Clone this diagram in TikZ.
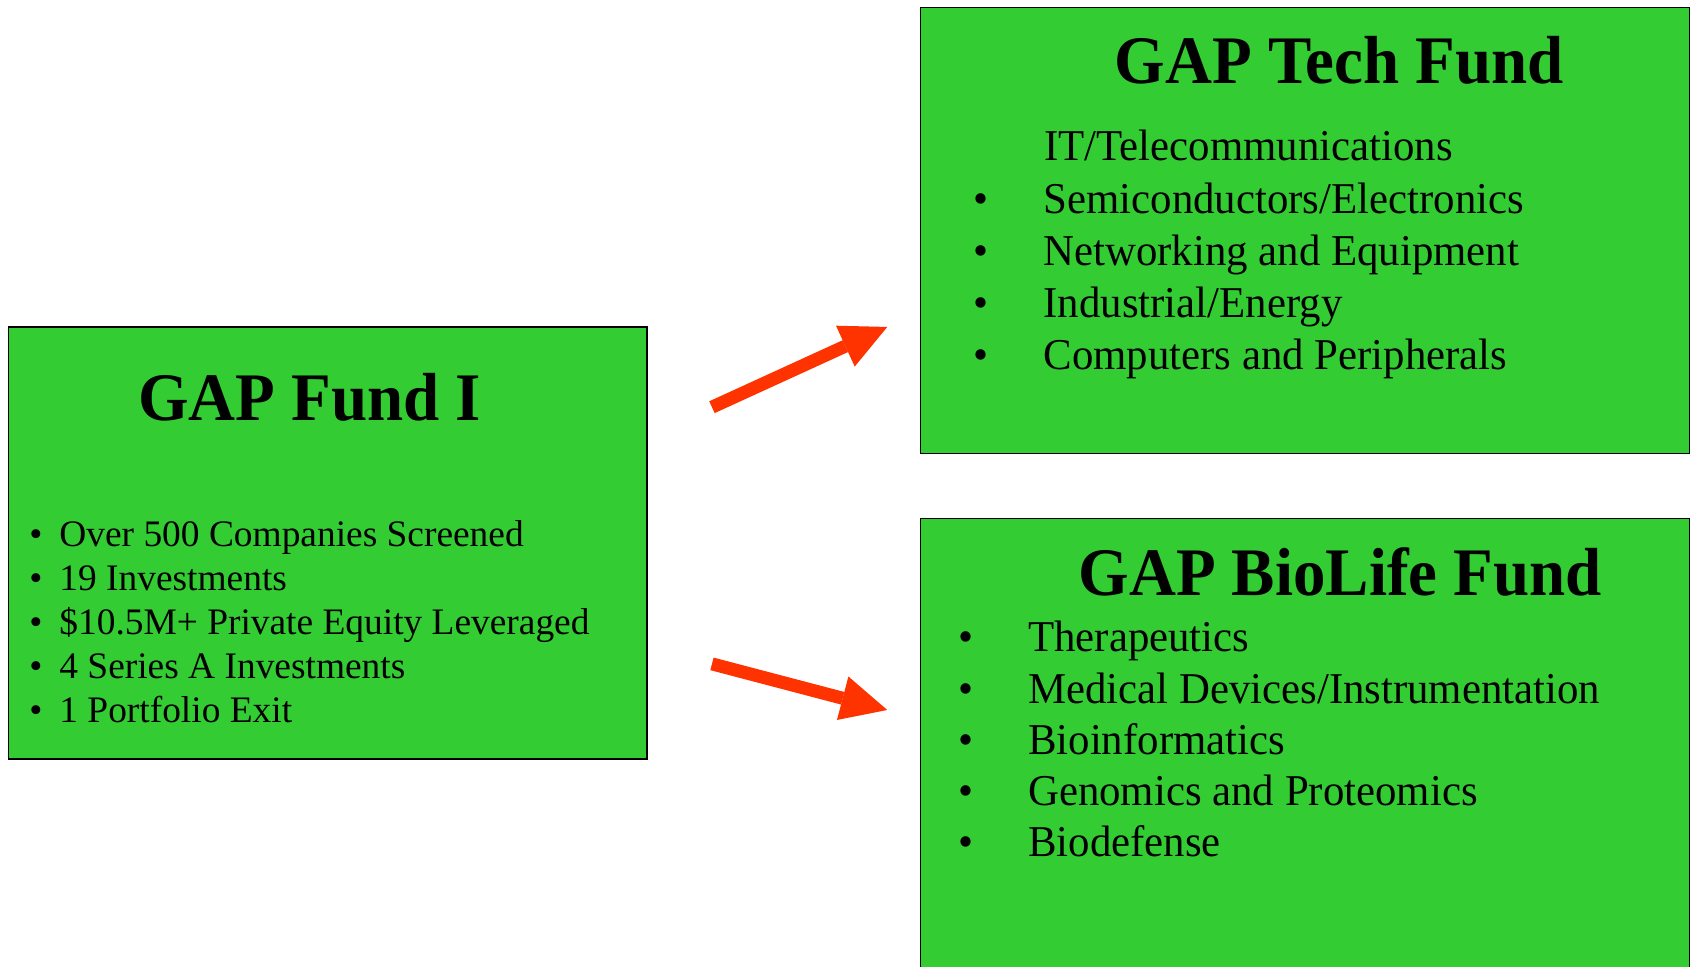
\documentclass[tikz,border=0pt]{standalone}
\usepackage{fontspec}
\setmainfont{Liberation Serif}
\newfontfamily\headfont[FakeStretch=0.955]{Liberation Serif}
\newfontfamily\listfont[FakeStretch=0.973]{Liberation Serif}
\usetikzlibrary{arrows.meta}
\definecolor{fundgreen}{HTML}{33CC33}
\definecolor{arrowred}{HTML}{FF3300}

\tikzset{
	fundbox/.style={draw=black, line width=0.6pt, fill=fundgreen, inner sep=0pt},
	fundtitle/.style={anchor=base, inner sep=0pt, font=\headfont\bfseries\fontsize{34}{40}\selectfont},
	smallitem/.style={anchor=base west, inner sep=0pt, font=\fontsize{18.7}{22}\selectfont},
	bigitem/.style={anchor=base west, inner sep=0pt, font=\listfont\fontsize{22}{26}\selectfont},
	bigarrow/.style={-{Triangle[length=0.81cm,width=0.79cm,line width=0pt]}, line width=6.5pt, arrowred}
}
% bullet in a box of fixed width, then the text
\newcommand{\blt}[2]{\makebox[#1][l]{\textbullet}#2}

\begin{document}
\begin{tikzpicture}
	\useasboundingbox (0,0) rectangle (29.73,16.975);

	\node[fundbox, minimum width=11.22cm, minimum height=7.59cm] (fund) at (5.76,7.435) {};
	\node[fundbox, minimum width=13.51cm, minimum height=7.84cm] (tech) at (22.925,12.92) {};
	\node[fundbox, minimum width=13.51cm, minimum height=8.16cm] (bio) at (22.925,3.78) {};

	\node[fundtitle] (fundname) at (5.44,9.59) {GAP Fund I};
	\node[fundtitle] (techname) at (23.53,15.50) {GAP Tech Fund};
	\node[fundtitle] (bioname) at (23.55,6.51) {GAP BioLife Fund};

	\foreach \txt [count=\i] in {Over 500 Companies Screened, 19 Investments,
		\$10.5M+ Private Equity Leveraged, 4 Series A Investments, 1 Portfolio Exit}
		\node[smallitem] (f\i) at (0.51,{8.157-0.777*\i}) {\blt{15pt}{\txt}};

	\node[bigitem] (t0) at (18.34,14.15) {IT/Telecommunications};
	\foreach \txt [count=\i] in {Semiconductors/Electronics, Networking and Equipment,
		Industrial/Energy, Computers and Peripherals}
		\node[bigitem] (t\i) at (17.10,{14.15-0.919*\i}) {\blt{35pt}{\txt}};

	\foreach \txt [count=\i] in {Therapeutics, Medical Devices/Instrumentation,
		Bioinformatics, Genomics and Proteomics, Biodefense}
		\node[bigitem] (b\i) at (16.83,{6.42-0.90*\i}) {\blt{35pt}{\txt}};

	\coordinate (up0) at (12.51,9.82);
	\coordinate (up1) at (15.59,11.23);
	\coordinate (down0) at (12.51,5.31);
	\coordinate (down1) at (15.59,4.50);

	\draw[bigarrow] (up0) -- (up1);
	\draw[bigarrow] (down0) -- (down1);

\end{tikzpicture}
\end{document}
